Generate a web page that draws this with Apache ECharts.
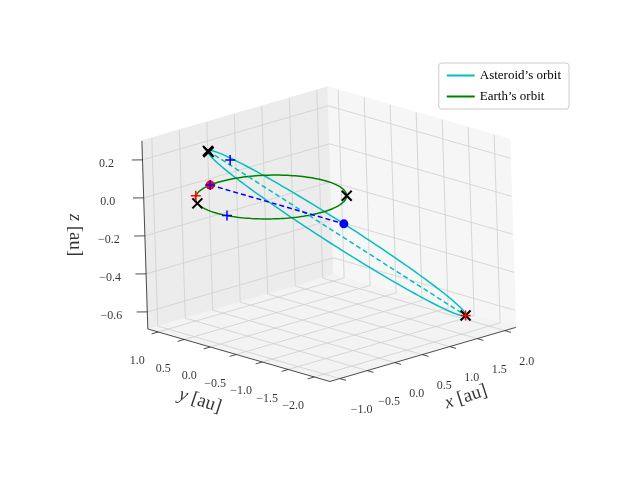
<!DOCTYPE html>
<html style="height: 100%">
<head>
  <meta charset="utf-8">
</head>
<body style="height: 100%; margin: 0">
  <div id="container" style="height: 100%"></div>
  <script type="text/javascript" src="https://fastly.jsdelivr.net/npm/echarts@6/dist/echarts.min.js"></script>
  <script type="text/javascript">
    // axis limits and ticks
    var xLim = [-1.18, 2.2];
    var yLim = [-2.3, 1.2];
    var zLim = [-0.69, 0.3];
    var xTicks = [-1.0, -0.5, 0.0, 0.5, 1.0, 1.5, 2.0];
    var yTicks = [-2.0, -1.5, -1.0, -0.5, 0.0, 0.5, 1.0];
    var zTicks = [-0.6, -0.4, -0.2, 0.0, 0.2];

    // earth orbit: unit circle in the ecliptic
    var earthRadius = 1.0;
    // asteroid orbit: apsides and minor semi-axis vector (au)
    var asteroidPeri = [-0.6, 0.55, 0.25];
    var asteroidAph = [2.12, -1.42, -0.69];
    var asteroidMinor = [0.18, 0.05, 0.03];

    // marked positions
    var blackCross = [[0.727, -0.687, 0], [-0.866, 0.5, 0], [-0.6, 0.55, 0.25], [-0.57, 0.57, 0.24], [2.12, -1.42, -0.69]];
    var redPlus = [[-0.643, 0.766, 0], [2.12, -1.42, -0.69]];
    var bluePlus = [[-0.98, -0.19, 0], [-0.39, 0.35, 0.2], [-0.174, 0.985, 0]];
    var redDot = [-0.174, 0.985, 0];
    var blueDot = [0.94, -0.385, -0.19];

    // simple projection of the 3d view
    var C = [271, 197], ex = [55, -16], ey = [-52, -15], ez = [-6, -190];
    function proj(p) {
      return [C[0] + p[0] * ex[0] + p[1] * ey[0] + p[2] * ez[0],
              C[1] + p[0] * ex[1] + p[1] * ey[1] + p[2] * ez[1]];
    }

    var serif = 'Liberation Serif';
    var series = [];

    // panes
    var panes = [
      [[xLim[0], yLim[1], zLim[0]], [xLim[1], yLim[1], zLim[0]], [xLim[1], yLim[1], zLim[1]], [xLim[0], yLim[1], zLim[1]]],
      [[xLim[1], yLim[0], zLim[0]], [xLim[1], yLim[1], zLim[0]], [xLim[1], yLim[1], zLim[1]], [xLim[1], yLim[0], zLim[1]]],
      [[xLim[0], yLim[0], zLim[0]], [xLim[1], yLim[0], zLim[0]], [xLim[1], yLim[1], zLim[0]], [xLim[0], yLim[1], zLim[0]]]
    ];
    var paneColors = ['#ececec', '#f6f6f6', '#f3f3f3'];
    series.push({
      type: 'custom', silent: true, z: 0,
      data: [0, 1, 2],
      renderItem: function (params, api) {
        var i = params.dataIndex;
        return {
          type: 'polygon',
          shape: { points: panes[i].map(function (p) { return api.coord(proj(p)); }) },
          style: { fill: paneColors[i], stroke: paneColors[i] }
        };
      }
    });

    function seg(a, b, color, width, z) {
      series.push({
        type: 'line', silent: true, showSymbol: false, z: z || 1,
        data: [proj(a), proj(b)],
        lineStyle: { color: color, width: width }
      });
    }
    var gc = '#cfcfcf';
    xTicks.forEach(function (x) {
      seg([x, yLim[1], zLim[0]], [x, yLim[1], zLim[1]], gc, 0.8);
      seg([x, yLim[0], zLim[0]], [x, yLim[1], zLim[0]], gc, 0.8);
    });
    yTicks.forEach(function (y) {
      seg([xLim[1], y, zLim[0]], [xLim[1], y, zLim[1]], gc, 0.8);
      seg([xLim[0], y, zLim[0]], [xLim[1], y, zLim[0]], gc, 0.8);
    });
    zTicks.forEach(function (z) {
      seg([xLim[0], yLim[1], z], [xLim[1], yLim[1], z], gc, 0.8);
      seg([xLim[1], yLim[1], z], [xLim[1], yLim[0], z], gc, 0.8);
    });
    // axis lines and ticks
    seg([xLim[0], yLim[0], zLim[0]], [xLim[1], yLim[0], zLim[0]], '#222', 0.8, 2);
    seg([xLim[0], yLim[0], zLim[0]], [xLim[0], yLim[1], zLim[0]], '#222', 0.8, 2);
    seg([xLim[0], yLim[1], zLim[0]], [xLim[0], yLim[1], zLim[1]], '#222', 0.8, 2);
    xTicks.forEach(function (x) { seg([x, yLim[0], zLim[0]], [x, yLim[0] - 0.12, zLim[0]], '#222', 0.8, 2); });
    yTicks.forEach(function (y) { seg([xLim[0], y, zLim[0]], [xLim[0] - 0.12, y, zLim[0]], '#222', 0.8, 2); });
    zTicks.forEach(function (z) { seg([xLim[0], yLim[1], z], [xLim[0] - 0.1, yLim[1] + 0.1, z], '#222', 0.8, 2); });

    function fmt(v) { return v.toFixed(1).replace('-', '\u2212'); }
    function labels(ticks, toPt, off) {
      series.push({
        type: 'scatter', silent: true, symbolSize: 0,
        data: ticks.map(function (t) {
          var s = proj(toPt(t));
          return { value: [s[0] + off[0], s[1] + off[1]], label: { formatter: fmt(t) } };
        }),
        label: { show: true, position: 'inside', color: '#000', fontFamily: serif, fontSize: 12 }
      });
    }
    labels(xTicks, function (t) { return [t, yLim[0], zLim[0]]; }, [22, 31]);
    labels(yTicks, function (t) { return [xLim[0], t, zLim[0]]; }, [-21, 29]);
    labels(zTicks, function (t) { return [xLim[0], yLim[1], t]; }, [-36, 4]);

    function axisTitle(pos, name, rot) {
      series.push({
        type: 'scatter', silent: true, symbolSize: 0,
        data: [{ value: pos, label: { formatter: '{i|' + name + '} [au]', rotate: rot } }],
        label: {
          show: true, position: 'inside', color: '#000', fontFamily: serif, fontSize: 19,
          rich: { i: { fontStyle: 'italic', fontFamily: serif, fontSize: 19, color: '#000' } }
        }
      });
    }
    axisTitle([466, 397], 'x', 18);
    axisTitle([200, 401], 'y', -18);
    axisTitle([75, 235], 'z', -90);

    // orbits
    var earthPts = [], astPts = [];
    var mid = [0, 1, 2].map(function (k) { return (asteroidPeri[k] + asteroidAph[k]) / 2; });
    var half = [0, 1, 2].map(function (k) { return (asteroidPeri[k] - asteroidAph[k]) / 2; });
    for (var i = 0; i <= 180; i++) {
      var t = i / 180 * 2 * Math.PI;
      earthPts.push(proj([earthRadius * Math.cos(t), earthRadius * Math.sin(t), 0]));
      astPts.push(proj([0, 1, 2].map(function (k) {
        return mid[k] + Math.cos(t) * half[k] + Math.sin(t) * asteroidMinor[k];
      })));
    }
    series.push({ name: "Asteroid\u2019s orbit", type: 'line', showSymbol: false, silent: true, z: 3,
      data: astPts, lineStyle: { color: '#00bfbf', width: 1.5 }, itemStyle: { color: '#00bfbf' } });
    series.push({ name: "Earth\u2019s orbit", type: 'line', showSymbol: false, silent: true, z: 3,
      data: earthPts, lineStyle: { color: '#008000', width: 1.5 }, itemStyle: { color: '#008000' } });
    series.push({ type: 'line', showSymbol: false, silent: true, z: 3,
      data: [proj(asteroidPeri), proj(asteroidAph)], lineStyle: { color: '#00bfbf', width: 1.5, type: [5, 3] } });
    series.push({ type: 'line', showSymbol: false, silent: true, z: 4,
      data: [proj(redDot), proj(blueDot)], lineStyle: { color: '#0000ff', width: 1.5, type: [5, 3] } });

    function markers(pts, symbol, color, size, width, z) {
      series.push({
        type: 'scatter', silent: true, z: z, symbol: symbol, symbolSize: size,
        data: pts.map(proj),
        itemStyle: { color: color, borderColor: color, borderWidth: width, opacity: 1 }
      });
    }
    var cross = 'path://M0,0L10,10M10,0L0,10';
    var plus = 'path://M5,0L5,10M0,5L10,5';
    markers([redDot], 'circle', '#ff0000', 9, 0, 5);
    markers([blueDot], 'circle', '#0000ff', 9, 0, 5);
    markers(blackCross, cross, '#000', 10, 2, 6);
    markers(redPlus, plus, '#ff0000', 10, 1.5, 7);
    markers(bluePlus, plus, '#0000ff', 10, 1.5, 7);
    // path symbols with stroke only
    series.slice(-3).forEach(function (s) { s.itemStyle.color = 'transparent'; });

    var myChart = echarts.init(document.getElementById('container'), null, { renderer: 'canvas' });
    myChart.setOption({
      animation: false,
      backgroundColor: '#fff',
      textStyle: { fontFamily: serif },
      grid: { left: 0, right: 0, top: 0, bottom: 0 },
      xAxis: { type: 'value', min: 0, max: 640, show: false },
      yAxis: { type: 'value', min: 0, max: 480, inverse: true, show: false },
      legend: {
        data: ["Asteroid\u2019s orbit", "Earth\u2019s orbit"],
        orient: 'vertical', right: 71, top: 63, padding: [6, 8],
        itemWidth: 28, itemHeight: 2, itemGap: 8, icon: 'rect',
        borderColor: '#ccc', borderWidth: 1, borderRadius: 3, backgroundColor: 'rgba(255,255,255,0.8)',
        textStyle: { fontFamily: serif, fontSize: 13, color: '#000' }
      },
      series: series
    });
    window.addEventListener('resize', myChart.resize);
  </script>
</body>
</html>
